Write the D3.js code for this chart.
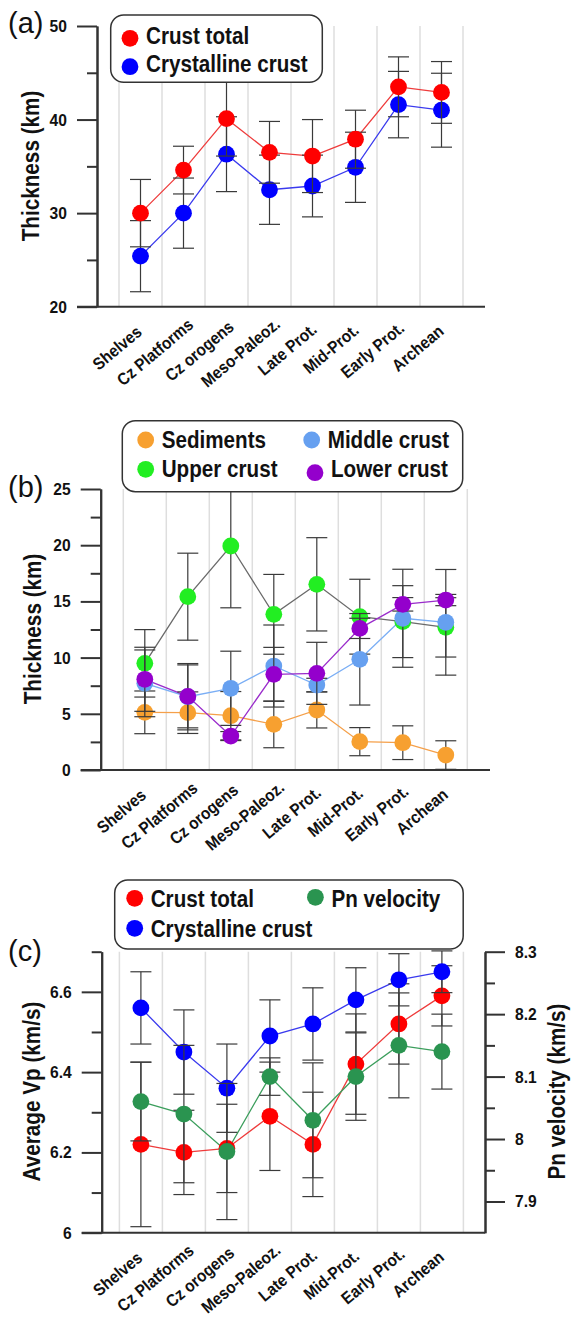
<!DOCTYPE html>
<html>
<head>
<meta charset="utf-8">
<script src="https://cdn.jsdelivr.net/npm/d3@7"></script>
<style>
  html, body { margin: 0; padding: 0; background: #fff; }
  svg { display: block; }
</style>
</head>
<body>
<svg id="chart" width="571" height="1319"></svg>
<script>
  "use strict";

  var categories = ["Shelves", "Cz Platforms", "Cz orogens", "Meso-Paleoz.", "Late Prot.", "Mid-Prot.", "Early Prot.", "Archean"];

  // (a) thickness, km
  var crustTotal     = [30.0, 34.6, 40.1, 36.5, 36.1, 37.9, 43.5, 42.9];
  var crustTotalErr  = [3.6, 2.55, 4.0, 3.3, 3.9, 3.1, 3.2, 3.3];
  var crystalline    = [25.4, 30.0, 36.3, 32.5, 32.9, 34.9, 41.6, 41.0];
  var crystallineErr = [3.8, 3.75, 4.0, 3.7, 3.3, 3.75, 3.55, 3.95];

  // (b) layer thickness, km
  var sediments    = [5.13, 5.1, 4.83, 4.06, 5.34, 2.52, 2.43, 1.33];
  var sedimentsErr = [1.9, 1.85, 2.15, 2.08, 1.6, 1.25, 1.5, 1.27];
  var upperCrust    = [9.49, 15.42, 19.93, 13.85, 16.52, 13.64, 13.2, 12.69];
  var upperCrustErr = [3.0, 3.87, 5.5, 3.55, 4.15, 3.33, 3.2, 2.64];
  var middleCrust    = [7.71, 6.52, 7.27, 9.25, 7.56, 9.85, 13.5, 13.14];
  var middleCrustErr = [2.97, 2.95, 3.3, 3.65, 0.6, 4.07, 4.36, 4.7];
  var lowerCrust    = [8.07, 6.55, 3.02, 8.51, 8.6, 12.6, 14.74, 15.12];
  var lowerCrustErr = [2.85, 2.8, 0.4, 2.4, 2.76, 0.9, 0.6, 0.5];

  // (c) velocities, km/s
  var vpTotal     = [6.22, 6.20, 6.21, 6.29, 6.22, 6.42, 6.52, 6.59];
  var vpTotalErr  = [0.205, 0.105, 0.11, 0.135, 0.13, 0.125, 0.10, 0.075];
  var vpCryst     = [6.56, 6.45, 6.36, 6.49, 6.52, 6.58, 6.63, 6.65];
  var vpCrystErr  = [0.09, 0.105, 0.11, 0.09, 0.09, 0.08, 0.065, 0.052];
  var pnVelocity  = [8.06, 8.04, 7.98, 8.10, 8.03, 8.10, 8.15, 8.14];
  var pnErr       = [0.063, 0.11, 0.109, 0.03, 0.092, 0.07, 0.084, 0.06];

  // tick values
  var thickTicksA = [20, 30, 40, 50];
  var thickMinorA = [25, 35, 45];
  var thickTicksB = [0, 5, 10, 15, 20, 25];
  var thickMinorB = [2.5, 7.5, 12.5, 17.5, 22.5];
  var vpTicks = [6, 6.2, 6.4, 6.6];
  var vpMinor = [6.1, 6.3, 6.5, 6.7];
  var pnTicks = [7.9, 8, 8.1, 8.2, 8.3];
  var pnMinor = [7.95, 8.05, 8.15, 8.25];

  var FONT = '"Liberation Sans", Arial, Helvetica, sans-serif';
  var AXIS = '#333';
  var svg = d3.select('#chart');

  svg.append('rect').attr('width', 571).attr('height', 1319).attr('fill', '#fff');

  // 把文字橫向壓縮一點，原圖字體偏窄
  function condense(sel, sx) {
    sel.attr('transform', function() {
      var x = +this.getAttribute('x') || 0;
      var y = +this.getAttribute('y') || 0;
      this.setAttribute('x', 0);
      this.setAttribute('y', 0);
      return 'translate(' + x + ',' + y + ') scale(' + sx + ',1)';
    });
  }

  function styleAxis(g) {
    g.attr('font-family', FONT).attr('font-size', 17).attr('font-weight', 'bold');
    g.selectAll('path, line').attr('stroke', AXIS).attr('stroke-width', 2);
    g.selectAll('text').attr('fill', '#111');
  }

  function yAxis(g, scale, major, minor, x, side) {
    var mk = side === 'right' ? d3.axisRight : d3.axisLeft;
    var box = g.append('g').attr('transform', 'translate(' + x + ',0)');
    box.append('g')
      .call(mk(scale).tickValues(minor).tickSize(10).tickSizeOuter(0).tickFormat(''))
      .call(styleAxis);
    var a = box.append('g')
      .call(mk(scale).tickValues(major).tickSize(20).tickSizeOuter(0).tickPadding(10)
        .tickFormat(function(d) { return String(d); }))
      .call(styleAxis);
    condense(a.selectAll('text'), 0.92);
  }

  function panel(opt) {
    var g = svg.append('g');
    var x = d3.scaleBand().domain(categories).range([opt.x0, opt.x1]);
    var xc = function(i) { return x(categories[i]) + x.bandwidth() / 2; };

    // gridlines at category boundaries
    var bounds = categories.map(function(c) { return x(c); }).concat([opt.x1]);
    g.append('g').selectAll('line').data(bounds).join('line')
      .attr('x1', function(d) { return d; })
      .attr('x2', function(d) { return d; })
      .attr('y1', opt.yTop).attr('y2', opt.yBottom)
      .attr('stroke', '#dedede').attr('stroke-width', 1.5);

    // connecting lines
    opt.series.forEach(function(s) {
      g.append('path').datum(s.values)
        .attr('fill', 'none')
        .attr('stroke', s.line)
        .attr('stroke-width', 1.3)
        .attr('d', d3.line()
          .x(function(d, i) { return xc(i); })
          .y(function(d) { return s.y(d); }));
    });

    // error bars + points, series by series
    opt.series.forEach(function(s) {
      var rows = s.values.map(function(v, i) { return { i: i, v: v, e: s.err[i] }; });
      var eb = g.append('g').selectAll('g').data(rows).join('g')
        .attr('stroke', '#3a3a3a').attr('stroke-width', 1.2);
      eb.append('line')
        .attr('x1', function(d) { return xc(d.i); })
        .attr('x2', function(d) { return xc(d.i); })
        .attr('y1', function(d) { return s.y(d.v - d.e); })
        .attr('y2', function(d) { return s.y(d.v + d.e); });
      [-1, 1].forEach(function(sign) {
        eb.append('line')
          .attr('x1', function(d) { return xc(d.i) - 10.5; })
          .attr('x2', function(d) { return xc(d.i) + 10.5; })
          .attr('y1', function(d) { return s.y(d.v + sign * d.e); })
          .attr('y2', function(d) { return s.y(d.v + sign * d.e); });
      });
      g.append('g').selectAll('circle').data(s.values).join('circle')
        .attr('cx', function(d, i) { return xc(i); })
        .attr('cy', function(d) { return s.y(d); })
        .attr('r', 8.4)
        .attr('fill', s.color);
    });

    // axes
    yAxis(g, opt.yLeft, opt.ticks, opt.minor, opt.axisX, 'left');
    if (opt.yRight) {
      yAxis(g, opt.yRight, opt.rTicks, opt.rMinor, opt.xEnd, 'right');
    }
    g.append('line')
      .attr('x1', opt.axisX - 20).attr('x2', opt.xEnd)
      .attr('y1', opt.yBottom).attr('y2', opt.yBottom)
      .attr('stroke', AXIS).attr('stroke-width', 2);

    var xa = g.append('g')
      .attr('transform', 'translate(0,' + opt.yBottom + ')')
      .call(d3.axisBottom(x).tickSize(0).tickPadding(0));
    xa.select('.domain').remove();
    xa.attr('font-family', FONT).attr('font-size', 17).attr('font-weight', 'bold');
    // 原圖的斜字標籤不是對齊字尾，大約在離字尾三成長度的位置旋轉
    xa.selectAll('text')
      .attr('fill', '#111')
      .attr('y', 0).attr('dy', '0.35em')
      .attr('text-anchor', 'middle')
      .attr('transform', 'translate(-15,34) rotate(-40) scale(0.9,1)')
      .attr('x', function() { return -0.19 * this.getComputedTextLength(); });

    // axis titles
    opt.titles.forEach(function(t) {
      g.append('text')
        .attr('transform', 'translate(' + t.x + ',' + t.y + ') rotate(-90) scale(0.9,1)')
        .attr('text-anchor', 'middle')
        .attr('font-family', FONT).attr('font-size', 23).attr('font-weight', 'bold')
        .attr('fill', '#111')
        .text(t.text);
    });

    // legend
    var L = opt.legend;
    g.append('rect')
      .attr('x', L.box[0]).attr('y', L.box[1])
      .attr('width', L.box[2] - L.box[0]).attr('height', L.box[3] - L.box[1])
      .attr('rx', 13).attr('ry', 13)
      .attr('fill', '#fff').attr('stroke', AXIS).attr('stroke-width', 1.5);
    L.items.forEach(function(it) {
      g.append('circle').attr('cx', it.cx).attr('cy', it.cy).attr('r', 8.4).attr('fill', it.color);
      var t = g.append('text')
        .attr('x', it.cx + 16).attr('y', it.ty)
        .attr('font-family', FONT).attr('font-size', 24).attr('font-weight', 'bold')
        .attr('fill', '#111')
        .text(it.name);
      condense(t, 0.86);
    });

    // panel label
    g.append('text')
      .attr('x', 8).attr('y', opt.labelY)
      .attr('font-family', FONT).attr('font-size', 29)
      .attr('fill', '#111')
      .text(opt.label);
  }

  // ---- (a)
  var yA = d3.scaleLinear().domain([20, 50]).range([306.7, 26]);
  panel({
    x0: 119, x1: 463, axisX: 97, xEnd: 485, yTop: 26, yBottom: 306.7,
    yLeft: yA, ticks: thickTicksA, minor: thickMinorA,
    series: [
      { values: crystalline, err: crystallineErr, color: '#0000ff', line: '#3a3aee', y: yA },
      { values: crustTotal, err: crustTotalErr, color: '#ff0000', line: '#ee3b3b', y: yA }
    ],
    titles: [{ x: 39, y: 166, text: 'Thickness (km)' }],
    legend: {
      box: [110.7, 15, 322.3, 82.3],
      items: [
        { name: 'Crust total', color: '#ff0000', cx: 130, cy: 38.3, ty: 43.5 },
        { name: 'Crystalline crust', color: '#0000ff', cx: 130, cy: 66.7, ty: 72 }
      ]
    },
    label: '(a)', labelY: 33
  });

  // ---- (b)
  var yB = d3.scaleLinear().domain([0, 25]).range([770, 489]);
  panel({
    x0: 123.3, x1: 467.3, axisX: 100.7, xEnd: 490, yTop: 489, yBottom: 770,
    yLeft: yB, ticks: thickTicksB, minor: thickMinorB,
    series: [
      { values: sediments, err: sedimentsErr, color: '#f7a030', line: '#f5a04a', y: yB },
      { values: upperCrust, err: upperCrustErr, color: '#22ee22', line: '#6a6a6a', y: yB },
      { values: middleCrust, err: middleCrustErr, color: '#66a0f0', line: '#7aaef5', y: yB },
      { values: lowerCrust, err: lowerCrustErr, color: '#9400cc', line: '#9a2ccb', y: yB }
    ],
    titles: [{ x: 41, y: 629, text: 'Thickness (km)' }],
    legend: {
      box: [122.3, 420.7, 462.7, 491.7],
      items: [
        { name: 'Sediments', color: '#f7a030', cx: 145.7, cy: 440, ty: 447.5 },
        { name: 'Upper crust', color: '#22ee22', cx: 145.7, cy: 469.3, ty: 476.7 },
        { name: 'Middle crust', color: '#66a0f0', cx: 311.7, cy: 440, ty: 447.5 },
        { name: 'Lower crust', color: '#9400cc', cx: 315, cy: 472.7, ty: 476.7 }
      ]
    },
    label: '(b)', labelY: 497
  });

  // ---- (c)
  var yC = d3.scaleLinear().domain([6, 6.7]).range([1232.7, 951.7]);
  var yPn = d3.scaleLinear().domain([7.85, 8.3]).range([1232.7, 951.7]);
  panel({
    x0: 119.4, x1: 463.4, axisX: 101.7, xEnd: 485, yTop: 951.7, yBottom: 1232.7,
    yLeft: yC, ticks: vpTicks, minor: vpMinor,
    yRight: yPn, rTicks: pnTicks, rMinor: pnMinor,
    series: [
      { values: vpTotal, err: vpTotalErr, color: '#ff0000', line: '#ee3b3b', y: yC },
      { values: vpCryst, err: vpCrystErr, color: '#0000ff', line: '#3a3aee', y: yC },
      { values: pnVelocity, err: pnErr, color: '#2a9450', line: '#3b9e5c', y: yPn }
    ],
    titles: [
      { x: 40, y: 1091.5, text: 'Average Vp (km/s)' },
      { x: 565, y: 1091.5, text: 'Pn velocity (km/s)' }
    ],
    legend: {
      box: [114.7, 880, 463.2, 949],
      items: [
        { name: 'Crust total', color: '#ff0000', cx: 134.7, cy: 898.3, ty: 906.8 },
        { name: 'Pn velocity', color: '#2a9450', cx: 315.4, cy: 897.3, ty: 906.8 },
        { name: 'Crystalline crust', color: '#0000ff', cx: 134.7, cy: 928.3, ty: 936.5 }
      ]
    },
    label: '(c)', labelY: 961
  });
</script>
</body>
</html>
